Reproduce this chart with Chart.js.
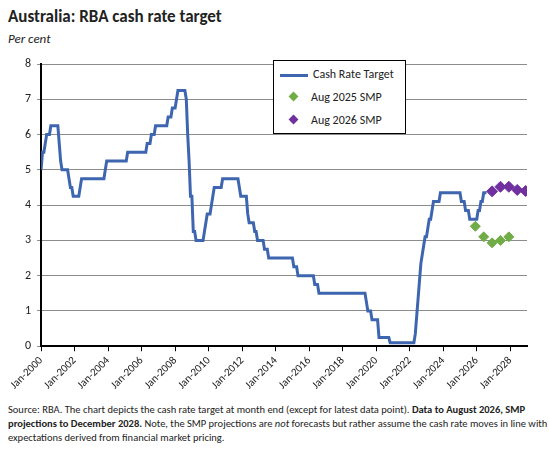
<!DOCTYPE html>
<html><head><meta charset="utf-8">
<script src="https://cdn.jsdelivr.net/npm/chart.js@4/dist/chart.umd.min.js"></script>
<style>
body{margin:0;background:#fff;font-family:Calibri,Carlito,"Liberation Sans",Arial,sans-serif;width:549px;height:454px;position:relative;overflow:hidden}
#t{position:absolute;left:8px;top:6px;font-size:17px;font-weight:bold;color:#222}
#u{position:absolute;left:8px;top:31px;font-size:13px;font-style:italic;color:#222}
#c{position:absolute;left:0;top:50px;width:549px;height:345px}
#lg{position:absolute;left:273px;top:60px;width:131px;height:72px;border:1px solid #000;background:#fff;font-size:12px;color:#222}
.r{position:absolute;left:6px;height:16px;line-height:16px}
.d{display:inline-block;width:7px;height:7px;transform:rotate(45deg);margin:0 14px 1px 10px}
#f{position:absolute;left:8px;top:403px;width:540px;font-size:10.5px;line-height:14px;color:#222}
</style></head><body>
<div id="t">Australia: RBA cash rate target</div>
<div id="u">Per cent</div>
<div id="c"><canvas id="cv"></canvas></div>
<div id="lg">
<div class="r" style="top:5px"><span style="display:inline-block;width:28px;height:3px;background:#3e66b0;vertical-align:middle;margin-right:5px"></span>Cash Rate Target</div>
<div class="r" style="top:28px"><span class="d" style="background:#70ad47"></span>Aug 2025 SMP</div>
<div class="r" style="top:51px"><span class="d" style="background:#7030a0"></span>Aug 2026 SMP</div>
</div>
<div id="f">Source: RBA. The chart depicts the cash rate target at month end (except for latest data point). <b>Data to August 2026, SMP projections to December 2028.</b> Note, the SMP projections are <i>not</i> forecasts but rather assume the cash rate moves in line with expectations derived from financial market pricing.</div>
<script>
// change points: "YYYY-MM" month-end, rate
const changeMonths=["2000-01","2000-02","2000-04","2000-05","2000-08","2001-02","2001-03","2001-04","2001-09","2001-10","2001-12","2002-05","2002-06","2003-11","2003-12","2005-03","2006-05","2006-08","2006-11","2007-08","2007-11","2008-02","2008-03","2008-09","2008-10","2008-11","2008-12","2009-02","2009-04","2009-10","2009-11","2009-12","2010-03","2010-04","2010-05","2010-11","2011-11","2011-12","2012-05","2012-06","2012-10","2012-12","2013-05","2013-08","2015-02","2015-05","2016-05","2016-08","2019-06","2019-07","2019-10","2020-03","2020-11","2022-05","2022-06","2022-07","2022-08","2022-09","2022-10","2022-11","2022-12","2023-02","2023-03","2023-05","2023-06","2023-11","2025-02","2025-05","2025-08","2026-02","2026-04","2026-06"];
const changeRates=[5.00,5.50,5.75,6.00,6.25,5.75,5.25,5.00,4.75,4.50,4.25,4.50,4.75,5.00,5.25,5.50,5.75,6.00,6.25,6.50,6.75,7.00,7.25,7.00,6.00,5.25,4.25,3.25,3.00,3.25,3.50,3.75,4.00,4.25,4.50,4.75,4.50,4.25,3.75,3.50,3.25,3.00,2.75,2.50,2.25,2.00,1.75,1.50,1.25,1.00,0.75,0.25,0.10,0.35,0.85,1.35,1.85,2.35,2.60,2.85,3.10,3.35,3.60,3.85,4.10,4.35,4.10,3.85,3.60,3.85,4.10,4.35];
const lastMonth="2026-08";
const smp25Months=["2025-12","2026-06","2026-12","2027-06","2027-12"];
const smp25Rates=[3.4,3.1,2.93,3.0,3.1];
const smp26Months=["2026-12","2027-06","2027-12","2028-06","2028-12"];
const smp26Rates=[4.39,4.52,4.52,4.43,4.4];
const yTicks=[0,1,2,3,4,5,6,7,8];

const mi=s=>{const[y,m]=s.split("-").map(Number);return (y-2000)*12+(m-1);};
const line=[];
changeMonths.forEach((m,i)=>{const x=mi(m);if(i>0)line.push({x:x-1,y:changeRates[i-1]});line.push({x:x,y:changeRates[i]});});
line.push({x:mi(lastMonth),y:changeRates[changeRates.length-1]});
const pts=(ms,vs)=>ms.map((m,i)=>({x:mi(m),y:vs[i]}));
const F='Calibri,Carlito,"Liberation Sans",Arial,sans-serif';
new Chart(document.getElementById('cv'),{
 type:'line',
 data:{datasets:[
  {data:line,borderColor:'#3e66b0',borderWidth:3,pointRadius:0,tension:0,order:2},
  {data:pts(smp25Months,smp25Rates),showLine:false,pointStyle:'rectRot',pointRadius:5,pointBackgroundColor:'#70ad47',pointBorderColor:'#70ad47',order:1},
  {data:pts(smp26Months,smp26Rates),showLine:false,pointStyle:'rectRot',pointRadius:5.5,pointBackgroundColor:'#7030a0',pointBorderColor:'#7030a0',order:1}
 ]},
 options:{responsive:true,maintainAspectRatio:false,animation:false,
  layout:{padding:{left:19,right:22,top:14,bottom:0}},
  plugins:{legend:{display:false},tooltip:{enabled:false}},
  scales:{
   x:{type:'linear',min:0,max:348,
    afterBuildTicks:a=>{a.ticks=[];for(let v=0;v<=336;v+=24)a.ticks.push({value:v});},
    ticks:{autoSkip:false,maxRotation:45,minRotation:45,color:'#222',font:{family:F,size:11},
     callback:v=>'Jan-'+(2000+v/12)},
    grid:{display:true,drawOnChartArea:false,color:'#000',tickLength:5},
    border:{color:'#000',width:2}},
   y:{min:0,max:8,
    afterBuildTicks:a=>{a.ticks=yTicks.map(v=>({value:v}));},
    ticks:{color:'#222',font:{family:F,size:12},padding:6},
    grid:{color:'#8c8c8c',tickLength:4},
    border:{color:'#000',width:2}}
  }}
});
</script></body></html>
